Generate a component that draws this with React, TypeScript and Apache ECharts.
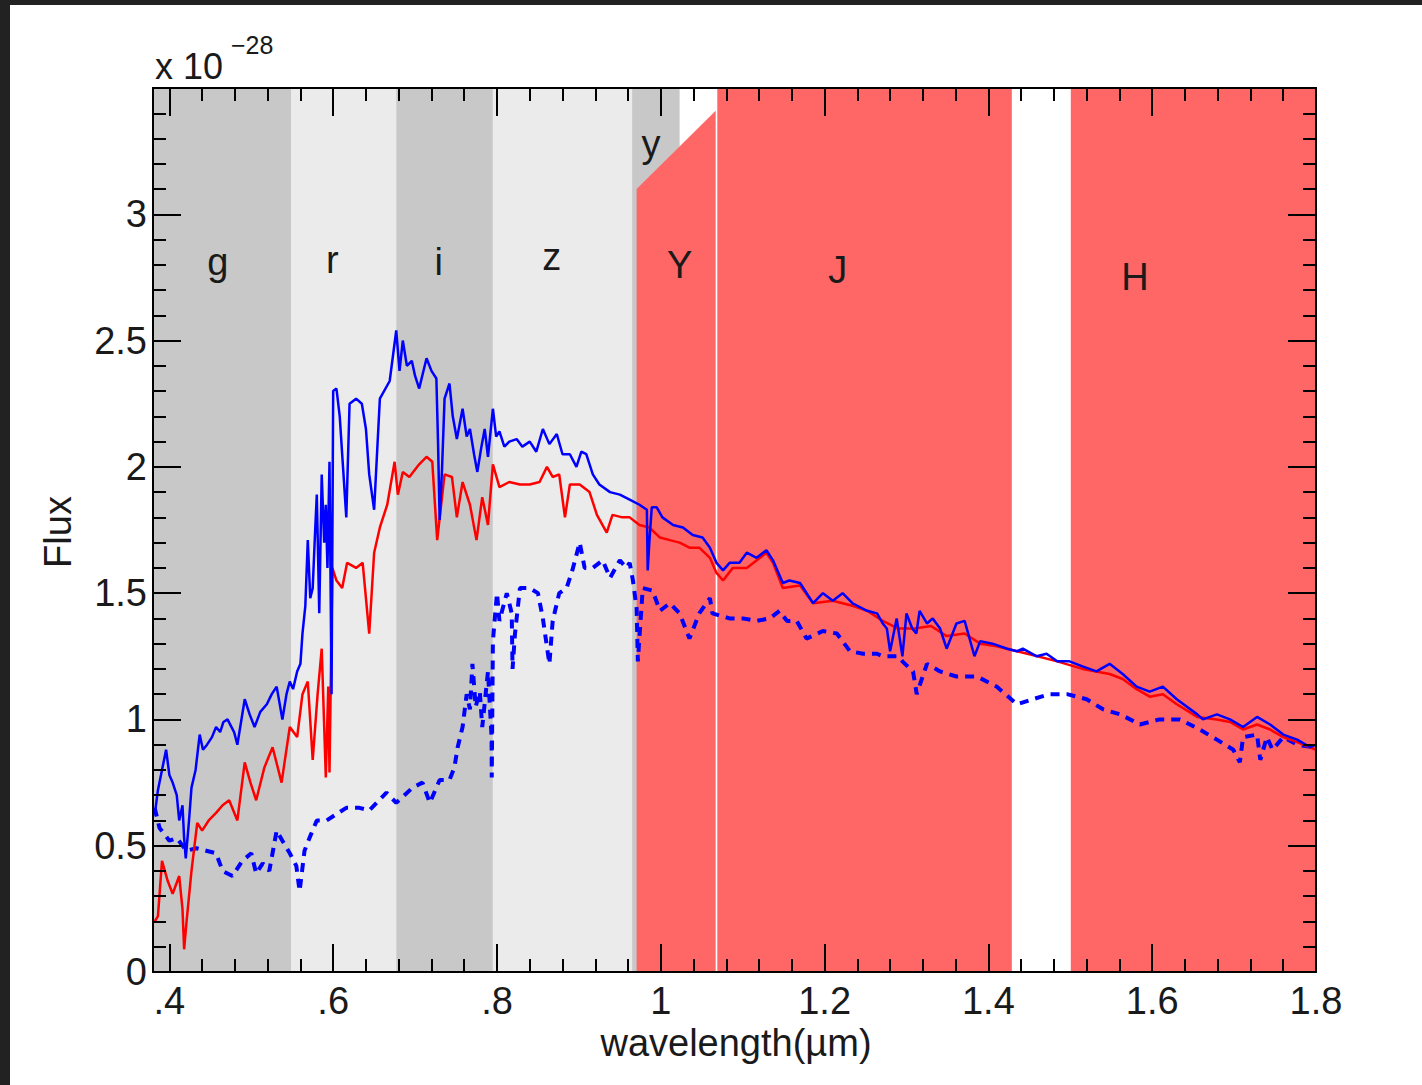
import React, { useEffect, useRef } from "react";
import * as echarts from "echarts";

// ---- axis ticks / labels ----
const majorWavelengths = [0.4, 0.6, 0.8, 1.0, 1.2, 1.4, 1.6, 1.8];
const majorWavelengthLabels = [".4", ".6", ".8", "1", "1.2", "1.4", "1.6", "1.8"];
const fluxTickLabels = ["0", "0.5", "1", "1.5", "2", "2.5", "3"];

// ---- filter bands ----
const bandNames = ["g", "r", "i", "z", "y", "Y", "J", "H"];
const bandStart = [0.38, 0.549, 0.677, 0.795, 0.965, 0.9705, 1.069, 1.5006];
const bandEnd = [0.549, 0.677, 0.795, 0.965, 1.023, 1.067, 1.4286, 1.8];
const bandTopLeft = [3.5, 3.5, 3.5, 3.5, 3.5, 3.1, 3.5, 3.5];
const bandTopRight = [3.5, 3.5, 3.5, 3.5, 3.5, 3.41, 3.5, 3.5];
const bandColors = ["#c8c8c8", "#ebebeb", "#c8c8c8", "#ebebeb", "#c8c8c8", "#ff6666", "#ff6666", "#ff6666"];
const bandLabelX = [0.459, 0.599, 0.729, 0.867, 0.988, 1.023, 1.216, 1.579];
const bandLabelY = [2.81, 2.82, 2.81, 2.83, 3.28, 2.8, 2.78, 2.75];

// ---- spectra [wavelength (µm), flux (1e-28)] ----
const blueSolid = [
  [0.382, 0.62], [0.386, 0.72], [0.391, 0.8], [0.396, 0.88], [0.400, 0.78], [0.404, 0.75], [0.409, 0.7], [0.412, 0.6],
  [0.416, 0.66], [0.418, 0.53], [0.42, 0.45], [0.424, 0.6], [0.427, 0.73], [0.432, 0.8], [0.437, 0.94],
  [0.441, 0.88], [0.446, 0.9], [0.452, 0.93], [0.457, 0.97], [0.462, 0.95], [0.466, 0.99], [0.471, 1.0], [0.479, 0.95], [0.483, 0.9],
  [0.492, 1.08], [0.498, 1.02], [0.504, 0.97], [0.511, 1.03], [0.519, 1.06], [0.525, 1.1], [0.531, 1.13], [0.538, 1.0], [0.543, 1.1], [0.547, 1.15], [0.551, 1.12], [0.556, 1.19],
  [0.56, 1.22], [0.5625, 1.34], [0.566, 1.45], [0.569, 1.71], [0.572, 1.48], [0.575, 1.52], [0.578, 1.75], [0.58, 1.89], [0.583, 1.42], [0.586, 1.97],
  [0.589, 1.7], [0.591, 1.85], [0.593, 1.6], [0.5955, 2.02], [0.598, 1.1], [0.6, 2.3], [0.604, 2.31], [0.608, 2.2],
  [0.612, 2.0], [0.616, 1.8], [0.62, 2.25], [0.628, 2.27], [0.635, 2.25], [0.64, 2.15], [0.644, 1.97],
  [0.65, 1.83], [0.657, 2.27], [0.669, 2.34], [0.677, 2.54], [0.681, 2.38], [0.685, 2.5], [0.69, 2.4], [0.696, 2.42],
  [0.7, 2.36], [0.705, 2.31], [0.714, 2.43], [0.72, 2.38], [0.726, 2.35], [0.728, 2.1], [0.73, 1.79], [0.733, 2.0], [0.736, 2.27],
  [0.742, 2.33], [0.746, 2.2], [0.751, 2.11], [0.758, 2.23], [0.763, 2.12], [0.767, 2.15], [0.772, 2.05], [0.776, 1.98], [0.781, 2.08], [0.785, 2.15], [0.789, 2.04],
  [0.795, 2.23], [0.799, 2.12], [0.803, 2.14], [0.809, 2.08], [0.815, 2.1], [0.824, 2.11], [0.831, 2.08], [0.84, 2.1], [0.848, 2.06],
  [0.856, 2.15], [0.864, 2.09], [0.873, 2.13], [0.88, 2.05], [0.889, 2.05], [0.897, 2.0], [0.903, 2.06], [0.909, 2.05],
  [0.917, 1.97], [0.925, 1.93], [0.938, 1.9], [0.95, 1.89], [0.962, 1.87], [0.974, 1.85], [0.983, 1.83],
  [0.984, 1.59], [0.986, 1.7], [0.989, 1.84], [0.995, 1.84], [1.002, 1.8], [1.015, 1.77], [1.027, 1.76],
  [1.039, 1.73], [1.051, 1.72], [1.06, 1.68], [1.068, 1.62], [1.076, 1.59], [1.084, 1.62], [1.096, 1.62],
  [1.105, 1.66], [1.117, 1.64], [1.129, 1.67], [1.137, 1.63], [1.149, 1.54], [1.157, 1.55], [1.17, 1.54],
  [1.186, 1.46], [1.198, 1.5], [1.21, 1.47], [1.222, 1.5], [1.234, 1.46], [1.252, 1.43], [1.264, 1.42],
  [1.271, 1.38], [1.276, 1.36], [1.28, 1.27], [1.288, 1.4], [1.295, 1.25], [1.3, 1.42], [1.307, 1.36],
  [1.312, 1.34], [1.316, 1.43], [1.325, 1.38], [1.332, 1.4], [1.341, 1.36], [1.349, 1.28], [1.361, 1.38],
  [1.371, 1.39], [1.383, 1.25], [1.39, 1.31], [1.405, 1.3], [1.423, 1.28], [1.435, 1.27], [1.442, 1.28],
  [1.459, 1.25], [1.471, 1.26], [1.484, 1.23], [1.499, 1.23], [1.515, 1.21], [1.532, 1.19], [1.548, 1.22],
  [1.564, 1.18], [1.581, 1.13], [1.597, 1.11], [1.613, 1.13], [1.63, 1.08], [1.655, 1.02], [1.662, 1.0],
  [1.679, 1.02], [1.695, 1.0], [1.711, 0.97], [1.728, 1.01], [1.744, 0.98], [1.76, 0.94], [1.777, 0.92],
  [1.793, 0.89], [1.8, 0.9],
];

const redSolid = [
  [0.382, 0.2], [0.386, 0.22], [0.391, 0.44], [0.398, 0.36], [0.404, 0.31], [0.412, 0.38], [0.416, 0.25],
  [0.418, 0.09], [0.421, 0.2], [0.427, 0.4], [0.434, 0.59], [0.44, 0.56], [0.448, 0.6], [0.457, 0.63], [0.465, 0.66], [0.473, 0.68],
  [0.483, 0.6], [0.492, 0.83], [0.499, 0.75], [0.506, 0.68], [0.516, 0.81], [0.526, 0.89], [0.537, 0.75], [0.547, 0.97],
  [0.556, 0.93], [0.5625, 1.1], [0.569, 1.15], [0.575, 0.84], [0.581, 1.1], [0.586, 1.28], [0.591, 0.77],
  [0.594, 1.13], [0.5955, 0.79], [0.599, 1.6], [0.604, 1.55], [0.611, 1.52], [0.617, 1.62], [0.628, 1.6],
  [0.636, 1.62], [0.644, 1.34], [0.65, 1.66], [0.657, 1.76], [0.666, 1.85], [0.675, 2.02], [0.679, 1.89],
  [0.685, 1.98], [0.693, 1.96], [0.705, 2.01], [0.714, 2.04], [0.721, 2.02], [0.727, 1.71], [0.736, 1.97],
  [0.745, 1.96], [0.751, 1.8], [0.758, 1.94], [0.767, 1.85], [0.775, 1.71], [0.782, 1.88], [0.789, 1.77],
  [0.795, 2.01], [0.803, 1.92], [0.815, 1.94], [0.828, 1.93], [0.84, 1.93], [0.852, 1.94], [0.861, 2.0],
  [0.868, 1.96], [0.876, 1.97], [0.883, 1.8], [0.889, 1.93], [0.901, 1.93], [0.913, 1.9], [0.922, 1.81],
  [0.934, 1.74], [0.941, 1.81], [0.953, 1.8], [0.962, 1.8], [0.974, 1.77], [0.986, 1.76], [0.999, 1.72],
  [1.011, 1.71], [1.023, 1.7], [1.035, 1.68], [1.047, 1.68], [1.06, 1.64], [1.068, 1.58], [1.076, 1.55],
  [1.088, 1.6], [1.105, 1.6], [1.129, 1.66], [1.137, 1.62], [1.149, 1.52], [1.17, 1.53], [1.186, 1.46],
  [1.21, 1.47], [1.234, 1.45], [1.252, 1.43], [1.271, 1.39], [1.29, 1.36], [1.31, 1.36], [1.33, 1.37],
  [1.349, 1.33], [1.371, 1.34], [1.39, 1.3], [1.41, 1.29], [1.435, 1.27], [1.46, 1.25], [1.484, 1.23],
  [1.515, 1.2], [1.548, 1.18], [1.564, 1.16], [1.581, 1.12], [1.597, 1.09], [1.613, 1.1], [1.63, 1.06],
  [1.655, 1.01], [1.679, 1.0], [1.695, 0.99], [1.711, 0.96], [1.728, 0.98], [1.744, 0.96], [1.76, 0.93],
  [1.777, 0.91], [1.8, 0.88],
];

const blueDashed = [
  [0.382, 0.65], [0.388, 0.57], [0.4, 0.52], [0.409, 0.53], [0.421, 0.48], [0.433, 0.49], [0.445, 0.48],
  [0.457, 0.47], [0.465, 0.4], [0.477, 0.38], [0.489, 0.44], [0.5, 0.47], [0.506, 0.39], [0.514, 0.43],
  [0.522, 0.4], [0.531, 0.56], [0.538, 0.52], [0.547, 0.47], [0.555, 0.42], [0.559, 0.32], [0.565, 0.48],
  [0.571, 0.53], [0.58, 0.6], [0.592, 0.6], [0.616, 0.65], [0.632, 0.65], [0.644, 0.64], [0.665, 0.71],
  [0.677, 0.67], [0.697, 0.73], [0.709, 0.75], [0.718, 0.67], [0.73, 0.76], [0.742, 0.76], [0.748, 0.81],
  [0.752, 0.89], [0.758, 0.97], [0.763, 1.1], [0.767, 1.04], [0.77, 1.22], [0.774, 1.05], [0.779, 1.11],
  [0.782, 0.97], [0.789, 1.19], [0.7934, 0.93], [0.7936, 0.77], [0.795, 1.31], [0.8, 1.5], [0.803, 1.39],
  [0.812, 1.5], [0.818, 1.42], [0.819, 1.2], [0.822, 1.34], [0.828, 1.52], [0.84, 1.52], [0.85, 1.5],
  [0.856, 1.4], [0.864, 1.22], [0.868, 1.39], [0.876, 1.5], [0.885, 1.52], [0.892, 1.59], [0.901, 1.7],
  [0.907, 1.6], [0.917, 1.6], [0.929, 1.63], [0.938, 1.56], [0.95, 1.63], [0.958, 1.6], [0.962, 1.62],
  [0.966, 1.55], [0.9705, 1.44], [0.972, 1.23], [0.978, 1.52], [0.99, 1.51], [0.999, 1.43], [1.011, 1.46],
  [1.023, 1.42], [1.035, 1.32], [1.047, 1.42], [1.06, 1.48], [1.063, 1.42], [1.084, 1.4], [1.1, 1.4],
  [1.117, 1.39], [1.133, 1.4], [1.145, 1.43], [1.154, 1.39], [1.166, 1.39], [1.178, 1.32], [1.198, 1.35],
  [1.215, 1.34], [1.231, 1.27], [1.247, 1.26], [1.264, 1.26], [1.271, 1.25], [1.29, 1.25], [1.295, 1.23],
  [1.308, 1.19], [1.3125, 1.1], [1.325, 1.22], [1.341, 1.19], [1.361, 1.17], [1.386, 1.17], [1.41, 1.13],
  [1.435, 1.06], [1.454, 1.08], [1.475, 1.1], [1.496, 1.1], [1.52, 1.08], [1.54, 1.04], [1.561, 1.02],
  [1.585, 0.98], [1.609, 1.0], [1.634, 1.0], [1.658, 0.96], [1.679, 0.92], [1.699, 0.88], [1.707, 0.83],
  [1.711, 0.93], [1.728, 0.94], [1.732, 0.84], [1.74, 0.93], [1.747, 0.88], [1.76, 0.93], [1.777, 0.9],
  [1.796, 0.89],
];

const X_MIN = 0.38;
const X_MAX = 1.8;
const Y_MIN = 0;
const Y_MAX = 3.5;

const FONT = "'Liberation Sans', Arial, Helvetica, sans-serif";
const TEXT = "#1a1a1a";

function minorOf(majors: number[]): number[] {
  const out: number[] = [];
  for (let i = 0; i < majors.length - 1; i++) {
    const step = (majors[i + 1] - majors[i]) / 5;
    for (let k = 1; k < 5; k++) out.push(+(majors[i] + step * k).toFixed(4));
  }
  return out;
}

export default function App() {
  const ref = useRef<HTMLDivElement>(null);

  useEffect(() => {
    if (!ref.current) return;
    const chart = echarts.init(ref.current, undefined, { renderer: "svg" });
    const minorX = minorOf(majorWavelengths);

    const axisLine = { show: true, lineStyle: { color: "#000", width: 2 } };
    const xBase = {
      type: "value",
      min: X_MIN,
      max: X_MAX,
      z: 20,
      splitLine: { show: false },
      axisLine,
    };
    const labelFor = (v: number) => {
      const idx = majorWavelengths.findIndex((m) => Math.abs(m - v) < 1e-6);
      return idx >= 0 ? majorWavelengthLabels[idx] : "";
    };
    const tickStyle = { color: "#000", width: 2 };

    const xAxes = [
      {
        ...xBase,
        position: "bottom",
        axisTick: { show: true, inside: true, length: 28, customValues: majorWavelengths, lineStyle: tickStyle },
        axisLabel: {
          show: true,
          customValues: majorWavelengths,
          formatter: labelFor,
          fontSize: 38,
          fontFamily: FONT,
          color: TEXT,
          margin: 10,
        },
      },
      {
        ...xBase,
        position: "bottom",
        axisTick: { show: true, inside: true, length: 13, customValues: minorX, lineStyle: tickStyle },
        axisLabel: { show: false },
      },
      {
        ...xBase,
        position: "top",
        axisTick: { show: true, inside: true, length: 28, customValues: majorWavelengths, lineStyle: tickStyle },
        axisLabel: { show: false },
      },
      {
        ...xBase,
        position: "top",
        axisTick: { show: true, inside: true, length: 13, customValues: minorX, lineStyle: tickStyle },
        axisLabel: { show: false },
      },
    ];

    const yBase = {
      type: "value",
      min: Y_MIN,
      max: Y_MAX,
      interval: 0.5,
      z: 20,
      splitLine: { show: false },
      axisLine,
      axisTick: { show: true, inside: true, length: 28, lineStyle: tickStyle },
      minorTick: { show: true, splitNumber: 5, length: 13, lineStyle: tickStyle },
      minorSplitLine: { show: false },
    };
    const yAxes = [
      {
        ...yBase,
        position: "left",
        axisLabel: {
          show: true,
          fontSize: 38,
          fontFamily: FONT,
          color: TEXT,
          margin: 6,
          showMaxLabel: false,
          formatter: (v: number) => {
            const idx = Math.round(v / 0.5);
            return fluxTickLabels[idx] ?? "";
          },
        },
      },
      { ...yBase, position: "right", axisLabel: { show: false } },
    ];

    const bandData = bandStart.map((s, i) => [s, bandEnd[i], bandTopLeft[i], bandTopRight[i], i]);
    const labelData = bandNames.map((n, i) => [bandLabelX[i], bandLabelY[i], i]);

    chart.setOption({
      animation: false,
      backgroundColor: "#ffffff",
      grid: { left: 153, top: 88, right: 106, bottom: 113, containLabel: false },
      xAxis: xAxes,
      yAxis: yAxes,
      graphic: [
        { type: "rect", left: 0, top: 0, shape: { width: 1422, height: 5 }, style: { fill: "#222222" }, z: 100 },
        { type: "rect", left: 0, top: 0, shape: { width: 10, height: 1085 }, style: { fill: "#222222" }, z: 100 },
        {
          type: "text",
          x: 155,
          y: 66,
          style: { text: "x 10", fontSize: 36, fontFamily: FONT, fill: TEXT, align: "left", verticalAlign: "middle" },
          z: 100,
        },
        {
          type: "text",
          x: 231,
          y: 45,
          style: { text: "\u221228", fontSize: 25, fontFamily: FONT, fill: TEXT, align: "left", verticalAlign: "middle" },
          z: 100,
        },
        {
          type: "text",
          x: 58,
          y: 532,
          rotation: Math.PI / 2,
          style: { text: "Flux", fontSize: 38, fontFamily: FONT, fill: TEXT, align: "center", verticalAlign: "middle" },
          z: 100,
        },
        {
          type: "text",
          x: 736,
          y: 1043,
          style: { text: "wavelength(\u00b5m)", fontSize: 38, fontFamily: FONT, fill: TEXT, align: "center", verticalAlign: "middle" },
          z: 100,
        },
      ],
      series: [
        {
          type: "custom",
          name: "bands",
          xAxisIndex: 0,
          yAxisIndex: 0,
          clip: true,
          z: 1,
          encode: { x: [0, 1], y: [2, 3] },
          data: bandData,
          renderItem: (params: any, api: any) => {
            const x0 = api.value(0);
            const x1 = api.value(1);
            const yl = api.value(2);
            const yr = api.value(3);
            const idx = api.value(4);
            const pts = [api.coord([x0, 0]), api.coord([x0, yl]), api.coord([x1, yr]), api.coord([x1, 0])];
            return { type: "polygon", shape: { points: pts }, style: { fill: bandColors[idx], stroke: null } };
          },
          silent: true,
        },
        {
          type: "line",
          name: "dashed",
          data: blueDashed,
          showSymbol: false,
          symbol: "none",
          z: 3,
          lineStyle: { color: "#0000ff", width: 4, type: [9, 7] },
          silent: true,
        },
        {
          type: "line",
          name: "red",
          data: redSolid,
          showSymbol: false,
          symbol: "none",
          z: 4,
          lineStyle: { color: "#ff0000", width: 2.5 },
          silent: true,
        },
        {
          type: "line",
          name: "blue",
          data: blueSolid,
          showSymbol: false,
          symbol: "none",
          z: 5,
          lineStyle: { color: "#0000ff", width: 2.5 },
          silent: true,
        },
        {
          type: "custom",
          name: "bandLabels",
          z: 6,
          encode: { x: 0, y: 1 },
          data: labelData,
          renderItem: (params: any, api: any) => {
            const p = api.coord([api.value(0), api.value(1)]);
            const idx = api.value(2);
            return {
              type: "text",
              x: p[0],
              y: p[1],
              style: {
                text: bandNames[idx],
                fontSize: 38,
                fontFamily: FONT,
                fill: TEXT,
                align: "center",
                verticalAlign: "middle",
              },
            };
          },
          silent: true,
        },
      ],
    });

    return () => chart.dispose();
  }, []);

  return (
    <div
      ref={ref}
      style={{ position: "fixed", left: 0, top: 0, width: 1422, height: 1085, background: "#fff" }}
    />
  );
}
